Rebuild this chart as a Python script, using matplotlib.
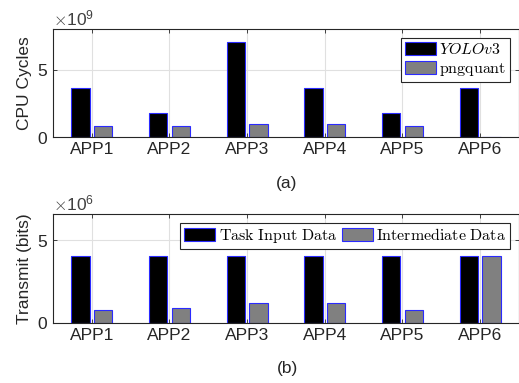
import matplotlib
matplotlib.use("Agg")
import matplotlib.pyplot as plt
import numpy as np
from matplotlib.ticker import ScalarFormatter

plt.rcParams['font.family'] = ['Liberation Sans', 'DejaVu Sans']
plt.rcParams['mathtext.fontset'] = 'cm'

apps = ["APP1", "APP2", "APP3", "APP4", "APP5", "APP6"]
yolo_cycles = [3.65e9, 1.75e9, 7.05e9, 3.65e9, 1.75e9, 3.65e9]
png_cycles = [0.82e9, 0.82e9, 0.95e9, 0.95e9, 0.82e9, 0.0]
task_input = [4.05e6, 4.05e6, 4.05e6, 4.05e6, 4.05e6, 4.05e6]
intermediate = [0.77e6, 0.9e6, 1.19e6, 1.19e6, 0.77e6, 4.05e6]

fig = plt.figure(figsize=(5.19, 3.83), dpi=100)
ax1 = fig.add_axes([0.102, 0.642, 0.898, 0.282])
ax2 = fig.add_axes([0.102, 0.157, 0.898, 0.283])

x = np.arange(1, len(apps) + 1)
off = 0.145
w = 0.235
edge = '#2a2aff'
spine_c = '#262626'

def style(ax, ylim, label):
    ax.set_xlim(0.5, 6.5)
    ax.set_ylim(*ylim)
    ax.set_xticks(x)
    ax.set_xticklabels(apps, fontsize=12.5, color='#262626')
    ax.set_ylabel(label, fontsize=12.5, color='#262626')
    ax.grid(True, color='#e0e0e0', linewidth=0.8)
    ax.set_axisbelow(True)
    ax.tick_params(direction='in', top=True, right=True, labelsize=12.5,
                   colors='#262626', length=3, width=0.6)
    for s in ax.spines.values():
        s.set_color(spine_c)
        s.set_linewidth(0.8)
    fmt = ScalarFormatter(useMathText=True)
    fmt.set_powerlimits((0, 0))
    ax.yaxis.set_major_formatter(fmt)
    ax.yaxis.get_offset_text().set_fontsize(12.5)
    ax.yaxis.get_offset_text().set_color('#404040')

legkw = dict(fontsize=11.5, fancybox=False, framealpha=1, edgecolor='#262626',
             handlelength=1.95, handleheight=0.85, borderaxespad=0.55,
             borderpad=0.25, handletextpad=0.2)

ax1.bar(x - off, yolo_cycles, w, color='black', edgecolor=edge, linewidth=0.8, label=r'$\mathit{YOLOv3}$')
ax1.bar(x + off, png_cycles, w, color='#808080', edgecolor=edge, linewidth=0.8, label=r'$\mathrm{pngquant}$')
style(ax1, (0, 8e9), 'CPU Cycles')
ax1.set_yticks([0, 5e9])
leg1 = ax1.legend(loc='upper right', labelspacing=0.25, **legkw)
leg1.get_frame().set_linewidth(0.8)

ax2.bar(x - off, task_input, w, color='black', edgecolor=edge, linewidth=0.8, label=r'$\mathrm{Task\ Input\ Data}$')
ax2.bar(x + off, intermediate, w, color='#808080', edgecolor=edge, linewidth=0.8, label=r'$\mathrm{Intermediate\ Data}$')
style(ax2, (0, 6.55e6), 'Transmit (bits)')
ax2.set_yticks([0, 5e6])
leg2 = ax2.legend(loc='upper right', ncol=2, columnspacing=0.3, **legkw)
leg2.get_frame().set_linewidth(0.8)

fig.text(0.553, 1 - 183 / 383, '(a)', ha='center', va='center', fontsize=12.5, color='#262626')
fig.text(0.553, 1 - 368 / 383, '(b)', ha='center', va='center', fontsize=12.5, color='#262626')

fig.savefig('out.png', dpi=100)
